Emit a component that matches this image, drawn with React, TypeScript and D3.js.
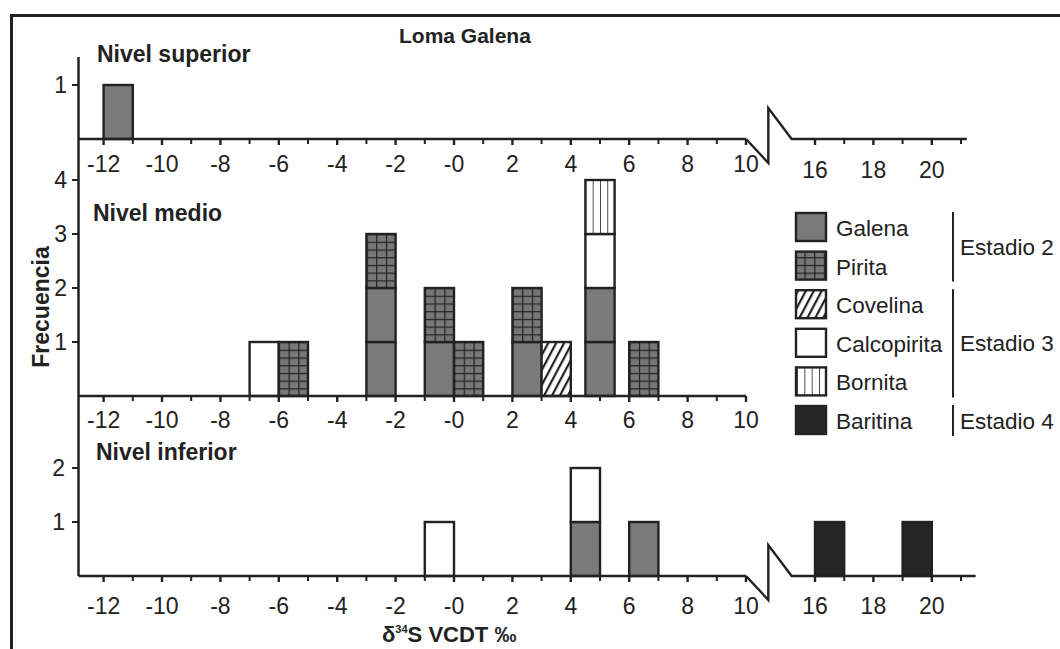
import React, { useEffect, useRef } from "react";
import * as d3 from "d3";

const mineralKeys = ["Galena", "Pirita", "Covelina", "Calcopirita", "Bornita", "Baritina"];
const stageLabels = ["Estadio 2", "Estadio 3", "Estadio 4"];
const stageRows = [2, 3, 1];

const leftTicks = [-12, -10, -8, -6, -4, -2, 0, 2, 4, 6, 8, 10];
const leftTickLabels = ["-12", "-10", "-8", "-6", "-4", "-2", "-0", "2", "4", "6", "8", "10"];
const rightTicks = [16, 18, 20];
const rightTickLabels = ["16", "18", "20"];

// left edge of each 1 per mil bar and the counts per mineral
const superiorBins = [-12];
const superiorGalena = [1];

const medioBins = [-7, -6, -3, -1, 0, 2, 3, 4.5, 6];
const medioGalena = [0, 0, 2, 1, 0, 1, 0, 2, 0];
const medioPirita = [0, 1, 1, 1, 1, 1, 0, 0, 1];
const medioCovelina = [0, 0, 0, 0, 0, 0, 1, 0, 0];
const medioCalcopirita = [1, 0, 0, 0, 0, 0, 0, 1, 0];
const medioBornita = [0, 0, 0, 0, 0, 0, 0, 1, 0];

const inferiorBins = [-1, 4, 6, 16, 19];
const inferiorGalena = [0, 1, 1, 0, 0];
const inferiorCalcopirita = [1, 1, 0, 0, 0];
const inferiorBaritina = [0, 0, 0, 1, 1];

const INK = "#222";
const FONT = "'Liberation Sans', Arial, sans-serif";

const Chart = () => {
  const ref = useRef<SVGSVGElement>(null);

  useEffect(() => {
    const svg = d3.select(ref.current);
    svg.selectAll("*").remove();

    const xLeft = d3.scaleLinear().domain([-12, 10]).range([103.6, 746]);
    const xRight = d3.scaleLinear().domain([16, 20]).range([815, 931.8]);
    const xPos = (v: number) => (v >= 15 ? xRight(v) : xLeft(v));
    const unit = xLeft(1) - xLeft(0);

    const yTop = d3.scaleLinear().domain([0, 1]).range([139, 85]);
    const yMid = d3.scaleLinear().domain([0, 4]).range([396, 180]);
    const yBot = d3.scaleLinear().domain([0, 2]).range([576, 468]);

    // patterns
    const defs = svg.append("defs");
    const pir = defs
      .append("pattern")
      .attr("id", "pirita")
      .attr("patternUnits", "userSpaceOnUse")
      .attr("x", xLeft(0))
      .attr("y", yMid(0))
      .attr("width", unit / 3)
      .attr("height", (yMid(0) - yMid(1)) / 7);
    pir.append("rect").attr("width", unit / 3).attr("height", 20).attr("fill", "#777");
    pir.append("path")
      .attr("d", `M0,0V20M0,0H${unit / 3}`)
      .attr("stroke", INK)
      .attr("stroke-width", 2.4);

    const cov = defs
      .append("pattern")
      .attr("id", "covelina")
      .attr("patternUnits", "userSpaceOnUse")
      .attr("width", 7)
      .attr("height", 20)
      .attr("patternTransform", "rotate(28)");
    cov.append("rect").attr("width", 7).attr("height", 20).attr("fill", "#fff");
    cov.append("path").attr("d", "M1,0V20").attr("stroke", INK).attr("stroke-width", 2.4);

    const bor = defs
      .append("pattern")
      .attr("id", "bornita")
      .attr("patternUnits", "userSpaceOnUse")
      .attr("x", xLeft(0))
      .attr("width", unit / 4)
      .attr("height", 20);
    bor.append("rect").attr("width", unit / 4).attr("height", 20).attr("fill", "#fff");
    bor.append("path").attr("d", "M0,0V20").attr("stroke", INK).attr("stroke-width", 1.6);

    const fills: Record<string, string> = {
      Galena: "#7a7a7a",
      Pirita: "url(#pirita)",
      Covelina: "url(#covelina)",
      Calcopirita: "#fff",
      Bornita: "url(#bornita)",
      Baritina: "#262626",
    };

    // frame
    svg.append("rect")
      .attr("x", 11.5).attr("y", 15.5).attr("width", 1200).attr("height", 800)
      .attr("fill", "none").attr("stroke", INK).attr("stroke-width", 3);

    const g = svg.append("g").attr("font-family", FONT).attr("fill", INK);

    // y axis line, one for the three panels
    g.append("line")
      .attr("x1", 78.5).attr("x2", 78.5).attr("y1", 57).attr("y2", yBot(0))
      .attr("stroke", INK).attr("stroke-width", 2.5);

    const panels = [
      {
        name: "Nivel superior", nx: 97, ny: 62, y: yTop, yTicks: [1], yLabelX: 67,
        bins: superiorBins, series: { Galena: superiorGalena } as Record<string, number[]>,
        right: 21.2, lab: 33, labR: 39,
      },
      {
        name: "Nivel medio", nx: 93, ny: 221, y: yMid, yTicks: [1, 2, 3, 4], yLabelX: 67,
        bins: medioBins,
        series: {
          Galena: medioGalena, Pirita: medioPirita, Covelina: medioCovelina,
          Calcopirita: medioCalcopirita, Bornita: medioBornita,
        } as Record<string, number[]>,
        right: 0, lab: 32, labR: 32,
      },
      {
        name: "Nivel inferior", nx: 96, ny: 460, y: yBot, yTicks: [1, 2], yLabelX: 65,
        bins: inferiorBins,
        series: {
          Galena: inferiorGalena, Calcopirita: inferiorCalcopirita, Baritina: inferiorBaritina,
        } as Record<string, number[]>,
        right: 21.5, lab: 38, labR: 38,
      },
    ];

    panels.forEach((p) => {
      const base = p.y(0);

      // bars, one box per count
      p.bins.forEach((b, i) => {
        let c = 0;
        mineralKeys.forEach((k) => {
          const n = p.series[k] ? p.series[k][i] : 0;
          for (let j = 0; j < n; j++) {
            g.append("rect")
              .attr("x", xPos(b))
              .attr("y", p.y(c + 1))
              .attr("width", unit)
              .attr("height", p.y(c) - p.y(c + 1))
              .attr("fill", fills[k])
              .attr("stroke", INK)
              .attr("stroke-width", 2.4);
            c++;
          }
        });
      });

      // x axis, left part
      g.append("line")
        .attr("x1", 78.5).attr("x2", xLeft(10)).attr("y1", base).attr("y2", base)
        .attr("stroke", INK).attr("stroke-width", 2.5);
      d3.range(-12, 11).forEach((t) => {
        g.append("line")
          .attr("x1", xLeft(t)).attr("x2", xLeft(t))
          .attr("y1", base).attr("y2", base + (t % 2 === 0 ? 6 : 5))
          .attr("stroke", INK).attr("stroke-width", t % 2 === 0 ? 2.4 : 2);
      });
      leftTicks.forEach((t, i) => {
        g.append("text")
          .attr("x", xLeft(t)).attr("y", base + p.lab)
          .attr("text-anchor", "middle").attr("font-size", 23)
          .text(leftTickLabels[i]);
      });

      // broken axis and right part
      if (p.right) {
        const x0 = xLeft(10);
        const x1 = xRight(15.2);
        const xm = (x0 + x1) / 2 - 0.5;
        g.append("path")
          .attr("d", `M${x0},${base}L${xm},${base + 24}L${xm},${base - 31}L${x1},${base}L${xRight(p.right)},${base}`)
          .attr("fill", "none").attr("stroke", INK).attr("stroke-width", 2.4);
        d3.range(16, 22).forEach((t) => {
          g.append("line")
            .attr("x1", xRight(t)).attr("x2", xRight(t))
            .attr("y1", base).attr("y2", base + (t % 2 === 0 ? 6 : 5))
            .attr("stroke", INK).attr("stroke-width", t % 2 === 0 ? 2.4 : 2);
        });
        rightTicks.forEach((t, i) => {
          g.append("text")
            .attr("x", xRight(t)).attr("y", base + p.labR)
            .attr("text-anchor", "middle").attr("font-size", 23)
            .text(rightTickLabels[i]);
        });
      }

      // y ticks
      p.yTicks.forEach((t) => {
        g.append("line")
          .attr("x1", 72).attr("x2", 78.5).attr("y1", p.y(t)).attr("y2", p.y(t))
          .attr("stroke", INK).attr("stroke-width", 2);
        g.append("text")
          .attr("x", p.yLabelX).attr("y", p.y(t) + 8)
          .attr("text-anchor", "end").attr("font-size", 23)
          .text(t);
      });

      g.append("text")
        .attr("x", p.nx).attr("y", p.ny)
        .attr("font-size", 23).attr("font-weight", "bold")
        .text(p.name);
    });

    // title and axis titles
    g.append("text")
      .attr("x", 399).attr("y", 43)
      .attr("font-size", 21).attr("font-weight", "bold")
      .text("Loma Galena");

    g.append("text")
      .attr("transform", "translate(49,307) rotate(-90)")
      .attr("text-anchor", "middle")
      .attr("font-size", 23).attr("font-weight", "bold")
      .text("Frecuencia");

    const xt = g.append("text")
      .attr("x", 382).attr("y", 642)
      .attr("font-size", 22).attr("font-weight", "bold");
    xt.append("tspan").text("δ");
    xt.append("tspan").attr("font-size", 11).attr("dy", -9).text("34");
    xt.append("tspan").attr("dy", 9).text("S VCDT ‰");

    // legend
    const rowY = (i: number) => 213 + i * 38.6;
    mineralKeys.forEach((k, i) => {
      g.append("rect")
        .attr("x", 796).attr("y", rowY(i))
        .attr("width", 30).attr("height", 28)
        .attr("fill", fills[k]).attr("stroke", INK).attr("stroke-width", 2.4);
      g.append("text")
        .attr("x", 836).attr("y", rowY(i) + 23)
        .attr("font-size", 22.5)
        .text(k);
    });
    let r = 0;
    stageLabels.forEach((s, i) => {
      const top = rowY(r) - 1;
      const bottom = rowY(r + stageRows[i] - 1) + 30;
      g.append("line")
        .attr("x1", 953).attr("x2", 953).attr("y1", top).attr("y2", bottom)
        .attr("stroke", INK).attr("stroke-width", 2);
      g.append("text")
        .attr("x", 960).attr("y", (top + bottom) / 2 + 8)
        .attr("font-size", 22.5)
        .text(s);
      r += stageRows[i];
    });
  }, []);

  return (
    <svg
      ref={ref}
      width={1060}
      height={649}
      style={{ position: "absolute", left: 0, top: 0, background: "#fff" }}
    />
  );
};

export default function App() {
  return <Chart />;
}
